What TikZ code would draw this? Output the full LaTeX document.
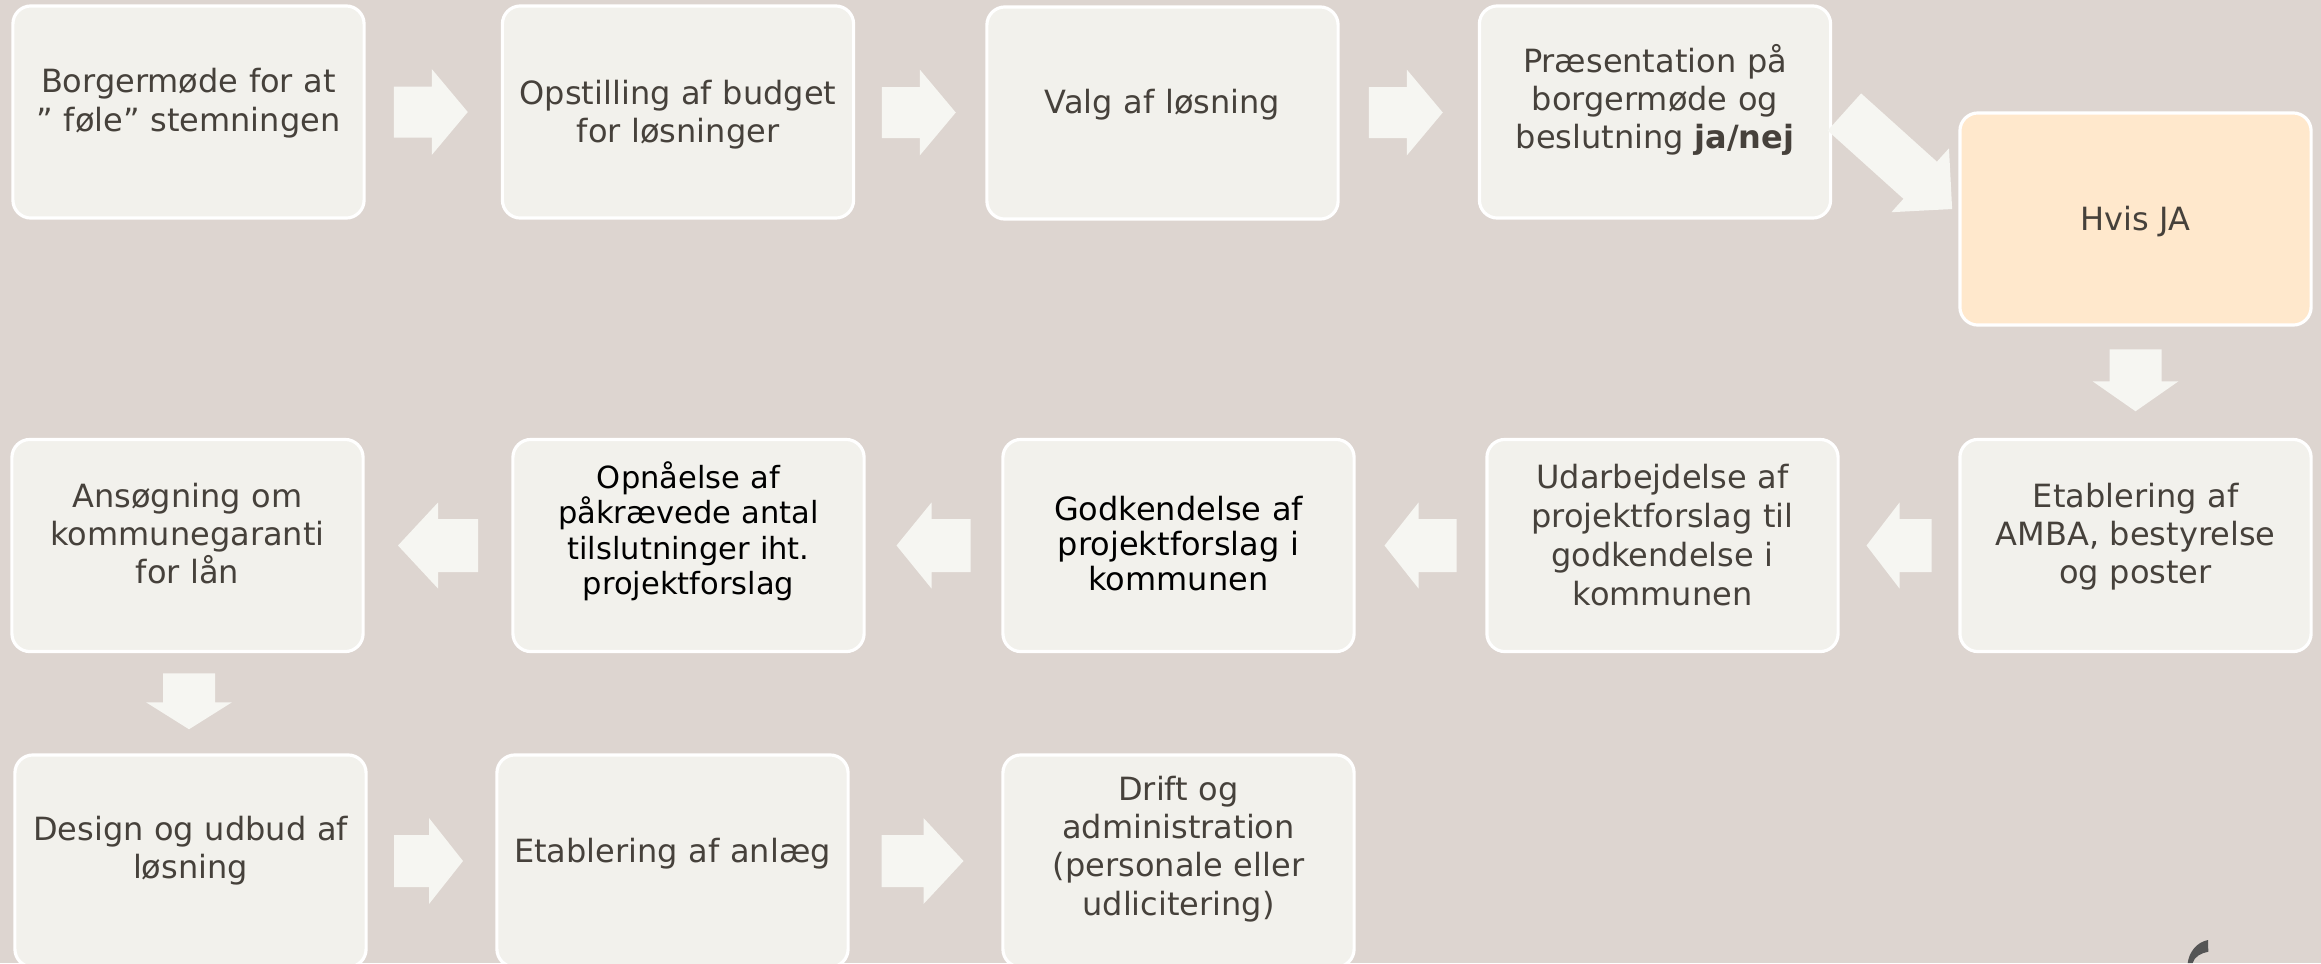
\documentclass[tikz,border=0pt]{standalone}
\usepackage{fontspec}
\setmainfont{DejaVu Sans}
\usetikzlibrary{calc}
\definecolor{bg}{HTML}{DDD5D0}
\definecolor{boxfill}{HTML}{F2F1EC}
\definecolor{arrowfill}{HTML}{F6F6F2}
\definecolor{peach}{HTML}{FFE8CC}
\definecolor{txt}{HTML}{46413B}
\definecolor{logo}{HTML}{555555}
\tikzset{
  stepbox/.style={draw=white, line width=0.9pt, fill=boxfill, rounded corners=0.18cm,
    minimum width=3.51cm, minimum height=2.12cm, inner sep=0pt},
  boxtext/.style={text width=3.4cm, align=center, anchor=base, inner sep=0pt, text=txt,
    font=\fontsize{9.1pt}{10.9pt}\selectfont},
  blacktext/.style={text=black},
  blockfill/.style={fill=arrowfill},
}
% center, angle, length, head length, half shaft width
\newcommand\blockarrow[5]{%
  \fill[blockfill, shift={(#1)}, rotate=#2]
    (-#3/2,-#5) -- (#3/2-#4,-#5) -- (#3/2-#4,-43) -- (#3/2,0) -- (#3/2-#4,43)
    -- (#3/2-#4,#5) -- (-#3/2,#5) -- cycle;}
\begin{document}
\begin{tikzpicture}[x=0.01cm, y=-0.01cm]
\useasboundingbox (0,0) rectangle (2321,963);
\fill[bg] (0,0) rectangle (2321,963);

% boxes
\node[stepbox] (b1) at (188.5,112) {};
\node[stepbox] (b2) at (678,112) {};
\node[stepbox] (b3) at (1162.5,113) {};
\node[stepbox] (b4) at (1655,112) {};
\node[stepbox, fill=peach] (b5) at (2135.5,219) {};
\node[stepbox] (b6) at (2135.5,545.5) {};
\node[stepbox] (b7) at (1662.5,545.5) {};
\node[stepbox] (b8) at (1178.5,545.5) {};
\node[stepbox] (b9) at (688.5,545.5) {};
\node[stepbox] (b10) at (187.5,545.5) {};
\node[stepbox] (b11) at (190.5,861) {};
\node[stepbox] (b12) at (672.5,861) {};
\node[stepbox] (b13) at (1178.5,861) {};

% texts
\node[boxtext] (t1) at (188.5,92.7) {Borgermøde for at\\” føle” stemningen};
\node[boxtext] (t2) at (678,104) {Opstilling af budget\\for løsninger};
\node[boxtext] (t3) at (1162.5,113) {Valg af løsning};
\node[boxtext] (t4) at (1655,72) {Præsentation på\\borgermøde og\\beslutning \textbf{ja/nej}};
\node[boxtext] (t5) at (2135.5,230) {Hvis JA};
\node[boxtext] (t6) at (2135.5,507) {Etablering af\\AMBA, bestyrelse\\og poster};
\node[boxtext, font=\fontsize{9.1pt}{11.1pt}\selectfont] (t7) at (1662.5,488) {Udarbejdelse af\\projektforslag til\\godkendelse i\\kommunen};
\node[boxtext, blacktext, font=\fontsize{9.1pt}{9.96pt}\selectfont] (t8) at (1178.5,520) {Godkendelse af\\projektforslag i\\kommunen};
\node[boxtext, blacktext, font=\fontsize{8.68pt}{10.1pt}\selectfont] (t9) at (688.5,488) {Opnåelse af\\påkrævede antal\\tilslutninger iht.\\projektforslag};
\node[boxtext] (t10) at (187.5,507) {Ansøgning om\\kommunegaranti\\for lån};
\node[boxtext] (t11) at (190.5,840) {Design og udbud af\\løsning};
\node[boxtext] (t12) at (672.5,862) {Etablering af anlæg};
\node[boxtext] (t13) at (1178.5,800) {Drift og\\administration\\(personale eller\\udlicitering)};

% arrow centres
\coordinate (m12) at ($(b1.east)!0.5!(b2.west)+(-2.5,0)$);
\coordinate (m23) at ($(b2.east)!0.5!(b3.west)+(-1.5,0)$);
\coordinate (m34) at ($(b3.east)!0.5!(b4.west)+(-3,0)$);
\coordinate (m45) at ($(b4.east)!0.5!(b5.west)+(3,-5)$);
\coordinate (m56) at ($(b5.south)!0.5!(b6.north)+(0,-2)$);
\coordinate (m67) at ($(b6.west)!0.5!(b7.east)$);
\coordinate (m78) at ($(b7.west)!0.5!(b8.east)$);
\coordinate (m89) at ($(b8.west)!0.5!(b9.east)$);
\coordinate (m910) at ($(b9.west)!0.5!(b10.east)$);
\coordinate (m1011) at ($(b10.south)!0.5!(b11.north)+(0,-2)$);
\coordinate (m1112) at ($(b11.east)!0.5!(b12.west)+(-3,0)$);
\coordinate (m1213) at ($(b12.east)!0.5!(b13.west)+(-3,0)$);

\blockarrow{m12}{0}{74}{36}{25.5}
\blockarrow{m23}{0}{74}{36}{25.5}
\blockarrow{m34}{0}{74}{36}{25.5}
\blockarrow{m45}{-42}{145}{43}{25}
\blockarrow{m56}{-90}{62}{30}{26}
\blockarrow{m67}{180}{65}{33}{26.5}
\blockarrow{m78}{180}{72}{34}{26.5}
\blockarrow{m89}{180}{74}{35}{26.5}
\blockarrow{m910}{180}{80}{40}{26.5}
\blockarrow{m1011}{-90}{56}{27}{26}
\blockarrow{m1112}{0}{69}{34}{26}
\blockarrow{m1213}{0}{82}{40}{26}

% logo fragment
\fill[logo] (2187.7,963) .. controls (2189,952) and (2197,942) .. (2208,940)
  -- (2208.3,951.7) .. controls (2201,953) and (2194,957) .. (2192.7,963) -- cycle;
\end{tikzpicture}
\end{document}
